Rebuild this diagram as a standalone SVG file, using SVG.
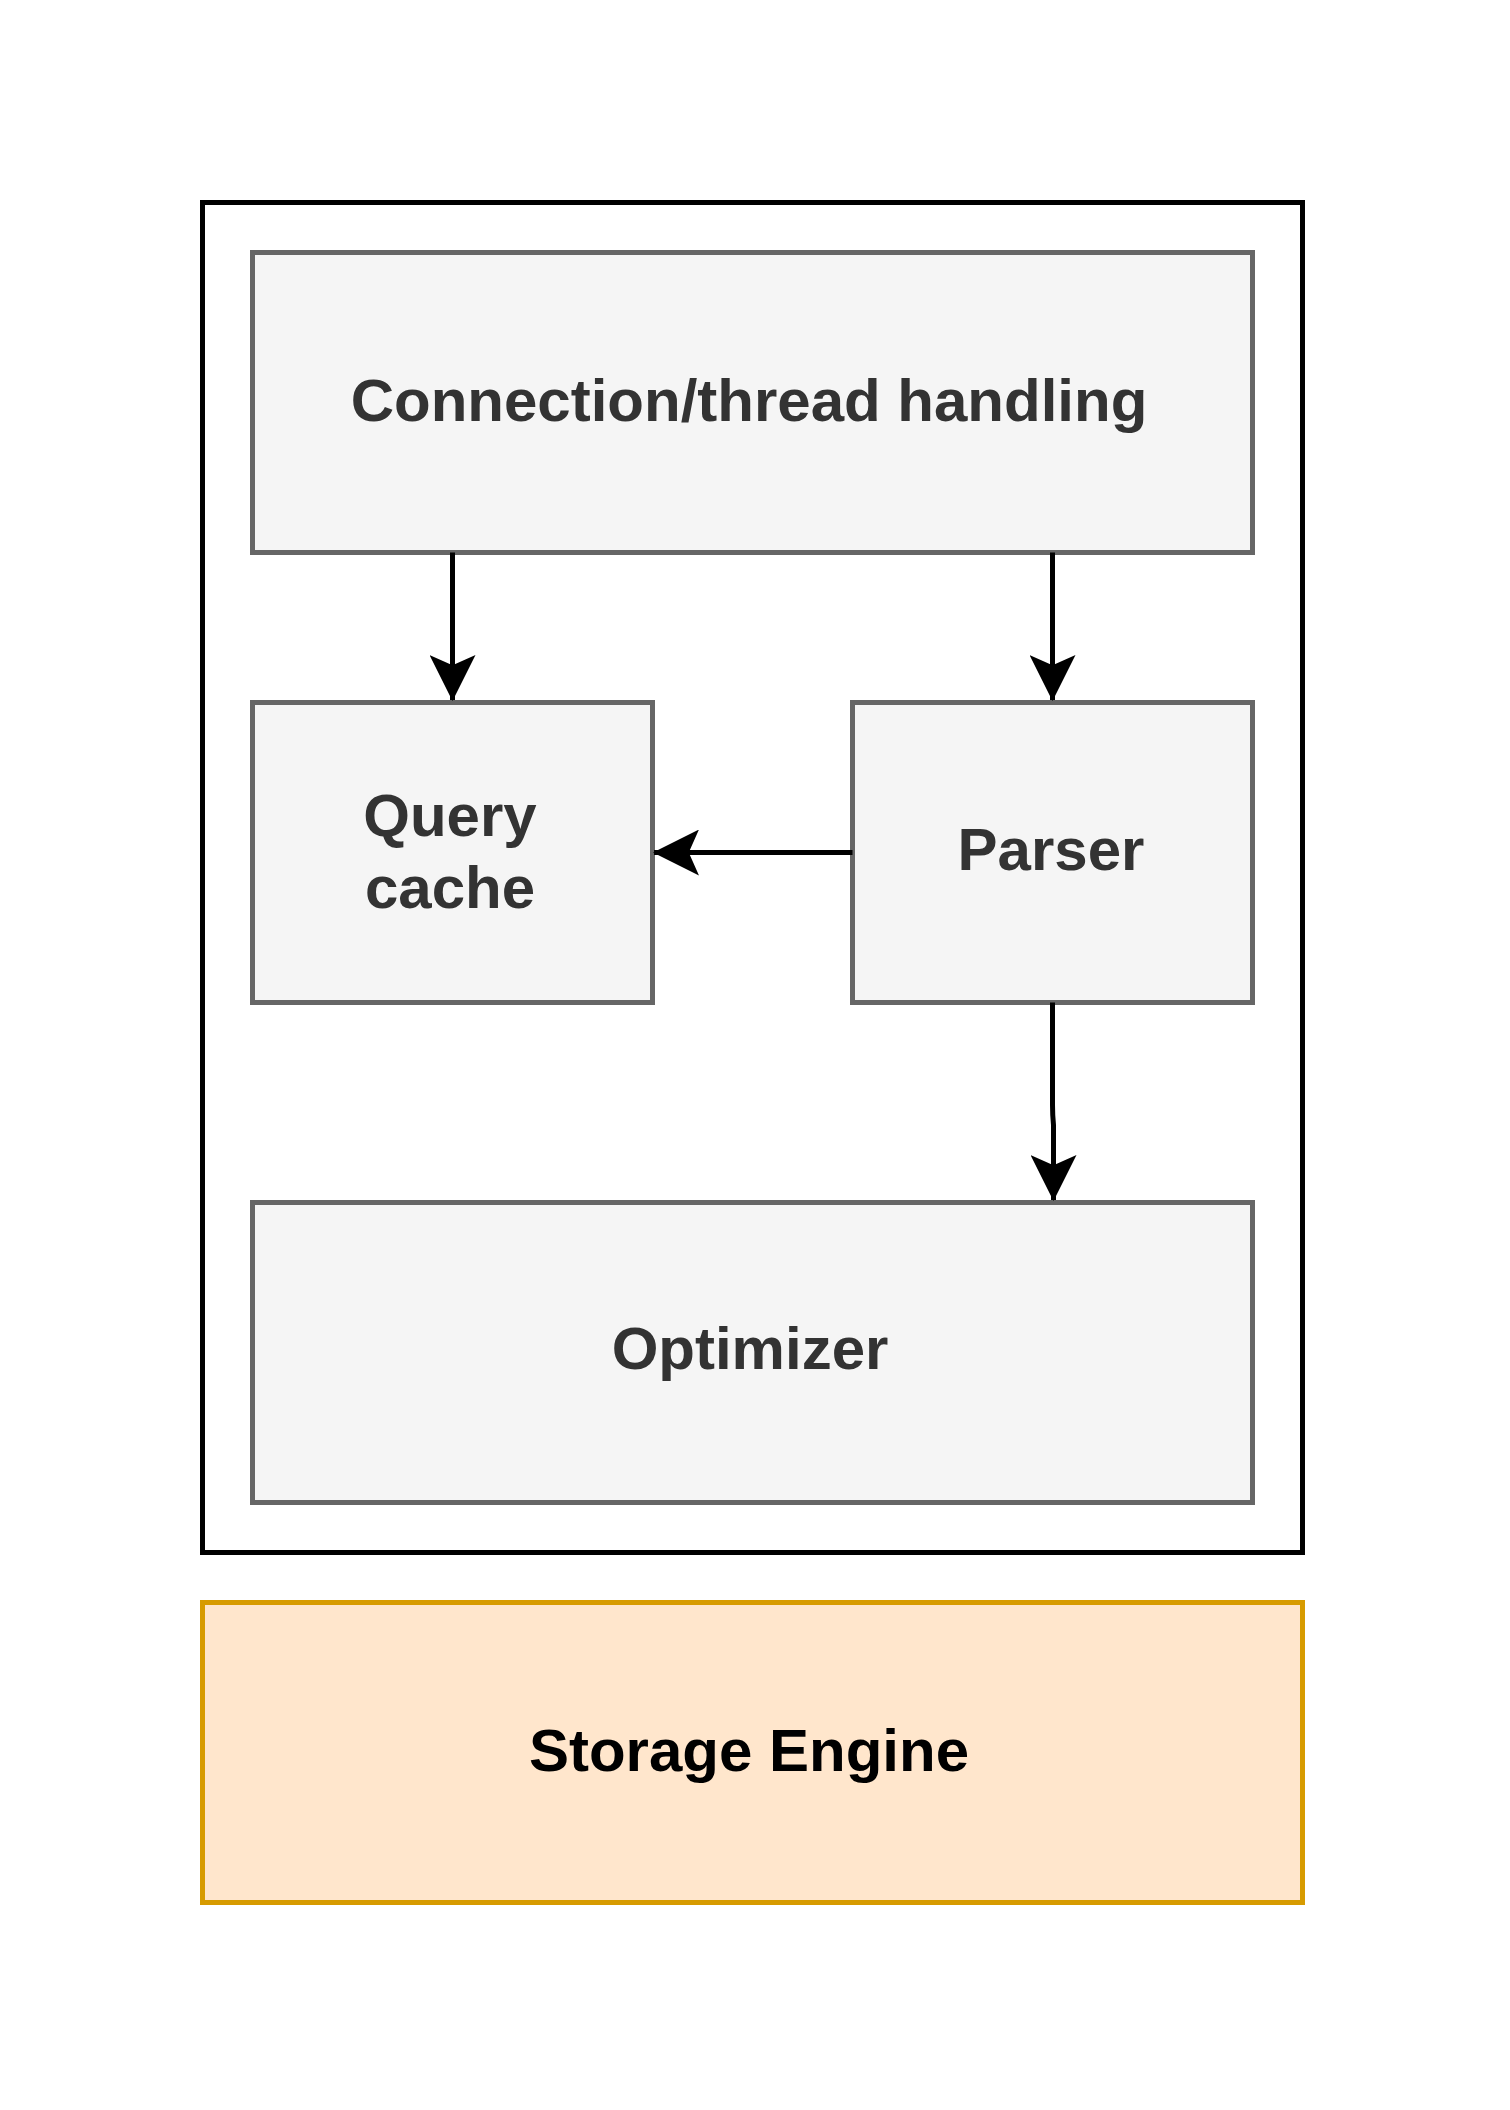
<svg xmlns="http://www.w3.org/2000/svg" width="1510" height="2110" viewBox="0 0 1510 2110">
  <defs>
    <style>
      .box { fill: #f5f5f5; stroke: #666666; stroke-width: 5; }
      .lbl { font-family: "Liberation Sans", Arial, sans-serif; font-weight: bold; font-size: 60px; fill: #333333; text-anchor: middle; }
      .edge { fill: none; stroke: #000000; stroke-width: 5; }
    </style>
    <marker id="arrow" markerUnits="userSpaceOnUse" markerWidth="46" markerHeight="46" viewBox="0 0 45 45" refX="44" refY="22.5" orient="auto">
      <path d="M0,0 L45,22.5 L0,45 L10,22.5 Z" fill="#000000"/>
    </marker>
  </defs>
  <rect width="1510" height="2110" fill="#ffffff"/>
  <g id="server">
    <rect x="202.5" y="202.5" width="1100" height="1350" fill="#ffffff" stroke="#000000" stroke-width="5"/>
  </g>
  <g id="connection">
    <rect class="box" x="252.5" y="252.5" width="1000" height="300"/>
    <text class="lbl" x="749" y="421">Connection/thread handling</text>
  </g>
  <g id="querycache">
    <rect class="box" x="252.5" y="702.5" width="400" height="300"/>
    <text class="lbl" x="450" y="836">Query</text>
    <text class="lbl" x="450" y="908">cache</text>
  </g>
  <g id="parser">
    <rect class="box" x="852.5" y="702.5" width="400" height="300"/>
    <text class="lbl" x="1051" y="870">Parser</text>
  </g>
  <g id="optimizer">
    <rect class="box" x="252.5" y="1202.5" width="1000" height="300"/>
    <text class="lbl" x="750" y="1369">Optimizer</text>
  </g>
  <g id="storage">
    <rect x="202.5" y="1602.5" width="1100" height="300" fill="#ffe6cc" stroke="#d79b00" stroke-width="5"/>
    <text class="lbl" x="749" y="1771" style="fill:#000000">Storage Engine</text>
  </g>
  <g id="connectors">
    <path class="edge" d="M452.5,552.5 L452.5,700" marker-end="url(#arrow)"/>
    <path class="edge" d="M1052.5,552.5 L1052.5,700" marker-end="url(#arrow)"/>
    <path class="edge" d="M852.5,852.5 L654,852.5" marker-end="url(#arrow)"/>
    <path class="edge" d="M1052.5,1002.5 L1052.5,1105 Q1052.5,1115 1053.5,1125 L1053.5,1200" marker-end="url(#arrow)"/>
  </g>
</svg>
